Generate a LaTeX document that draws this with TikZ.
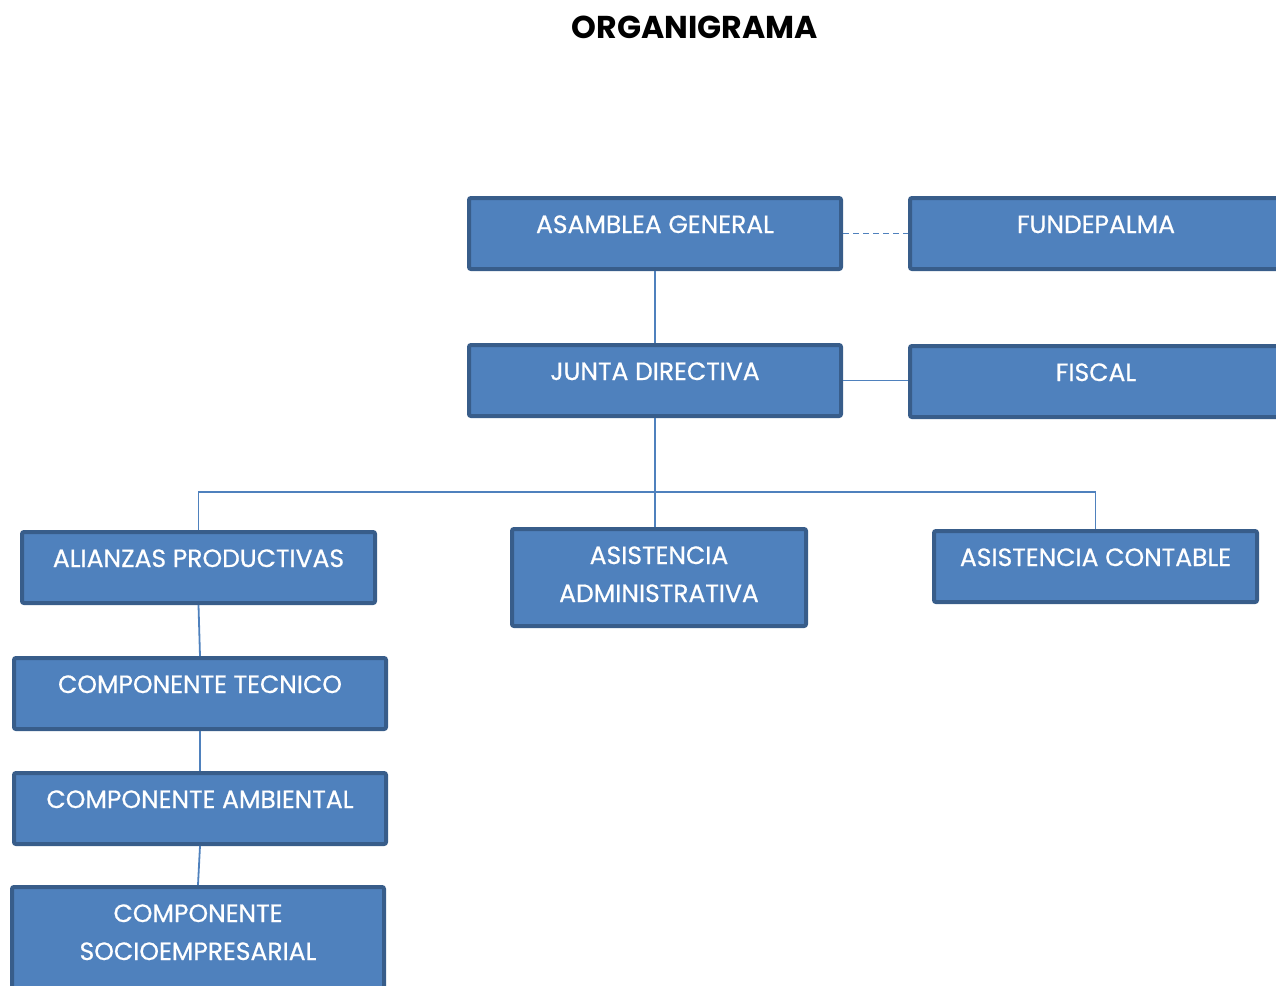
\documentclass[tikz,border=0pt]{standalone}
\usepackage{fontspec}
\setmainfont{Poppins}
\newfontfamily\boxfont{Poppins}[FakeBold=0.6]
\definecolor{boxfill}{HTML}{4F81BD}
\definecolor{boxline}{HTML}{385D8A}
\definecolor{linkblue}{HTML}{4F81BD}

\begin{document}
\begin{tikzpicture}[
  x=0.5pt, y=-0.5pt,
  font=\boxfont\fontsize{12.5}{19}\selectfont,
  box/.style={draw=boxline, fill=boxfill, line width=2pt, rounded corners=1pt, text=white, align=center, inner xsep=0pt, inner ysep=0pt, text height=17.5pt, text depth=18pt, minimum width=186pt},
  tallbox/.style={box, text height=36.5pt, text depth=12pt},
  conn/.style={draw=linkblue, line width=0.9pt},
  dashconn/.style={conn, dash pattern=on 3pt off 2pt},
  orgtitle/.style={font=\rmfamily\fontsize{15.8}{18}\selectfont\bfseries},
]
\useasboundingbox (0,0) rectangle (1276,986);

% ====== TITLE ======
\node[orgtitle] (titulo) at (695,27) {ORGANIGRAMA};

% ====== TOP LEVEL ======
\node[box] (asamblea) at (655,233.5) {ASAMBLEA GENERAL};
\node[box] (fundepalma) at (1096,233.5) {FUNDEPALMA};
\node[box] (junta) at (655,380.5) {JUNTA DIRECTIVA};
\node[box] (fiscal) at (1096,381.5) {FISCAL};

% ====== SECOND LEVEL ======
\node[box, minimum width=176.5pt] (alianzas) at (198.5,567.5) {ALIANZAS PRODUCTIVAS};
\node[tallbox, minimum width=147pt] (asistadm) at (659,577.5) {ASISTENCIA\\ADMINISTRATIVA};
\node[box, minimum width=161.5pt] (asistcont) at (1095.5,566.5) {ASISTENCIA CONTABLE};

% Components under Alianzas
\node[box] (comptec) at (200,693.5) {COMPONENTE TECNICO};
\node[box] (compamb) at (200,808.5) {COMPONENTE AMBIENTAL};
\node[tallbox, text depth=18.5pt] (compsoc) at (198,942) {COMPONENTE\\SOCIOEMPRESARIAL};

% ====== CONNECTORS ======
\draw[dashconn] (asamblea.east) -- (fundepalma.west);
\draw[conn] (junta.east) -- (junta.east -| fiscal.west);
\draw[conn] (asamblea.south) -- (junta.north);

% branch bar
\coordinate (reparto) at (655,492);
\draw[conn] (junta.south) -- (junta.south |- asistadm.north);
\draw[conn] (alianzas.north) |- (reparto) -| (asistcont.north);

\draw[conn] (alianzas.south) -- (comptec.north);
\draw[conn] (comptec.south) -- (compamb.north);
\draw[conn] (compamb.south) -- (compsoc.north);

\end{tikzpicture}
\end{document}
